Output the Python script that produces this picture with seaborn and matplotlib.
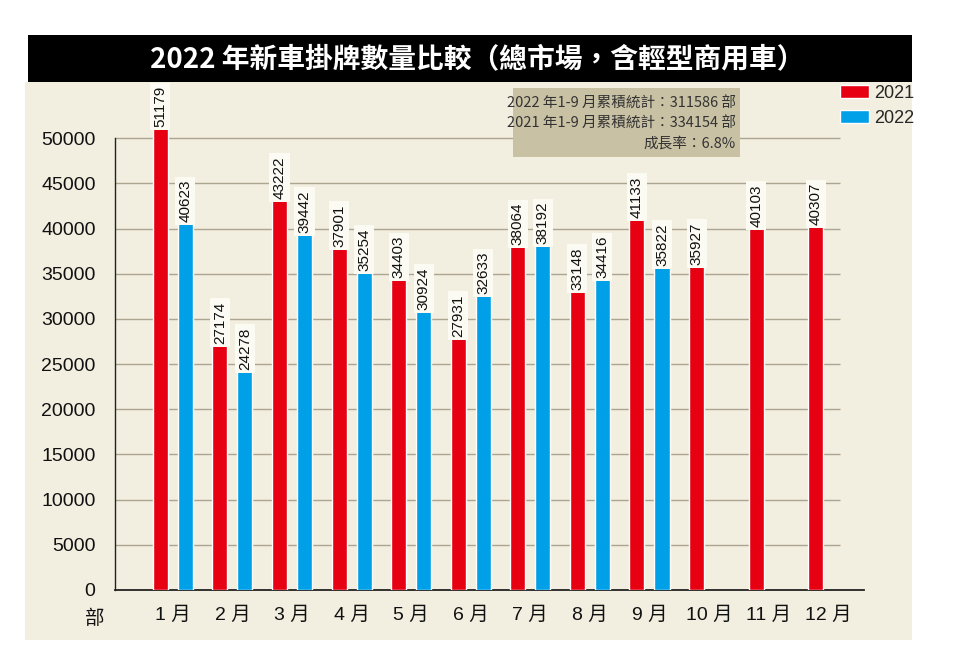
import numpy as np
import pandas as pd
import matplotlib
matplotlib.use("Agg")
import matplotlib.pyplot as plt
import seaborn as sns
from matplotlib.patches import Rectangle

# -----------------------------
# DATA
# -----------------------------
months = ["1 月", "2 月", "3 月", "4 月", "5 月", "6 月",
          "7 月", "8 月", "9 月", "10 月", "11 月", "12 月"]
sales_2021 = [51179, 27174, 43222, 37901, 34403, 27931,
              38064, 33148, 41133, 35927, 40103, 40307]
sales_2022 = [40623, 24278, 39442, 35254, 30924, 32633,
              38192, 34416, 35822, np.nan, np.nan, np.nan]
years = ["2021", "2022"]
y_ticks = list(range(0, 50001, 5000))

title = "2022 年新車掛牌數量比較（總市場，含輕型商用車）"
info_lines = ["2022 年1-9 月累積統計：311586 部",
              "2021 年1-9 月累積統計：334154 部",
              "成長率：6.8%"]

RED = "#e60012"
BLUE = "#00a0e9"
BEIGE = "#f2eee0"

# -----------------------------
# FONTS
# -----------------------------
sns.set_style("white")
# numbers in the narrowest latin face, CJK falls through to Noto
plt.rcParams["font.family"] = ["Liberation Sans", "Noto Sans CJK TC", "DejaVu Sans"]
CJK = ["Noto Sans CJK TC", "DejaVu Sans"]

df = pd.DataFrame({
    "month": months * 2,
    "year": ["2021"] * 12 + ["2022"] * 12,
    "value": sales_2021 + sales_2022,
})

# -----------------------------
# FIGURE
# -----------------------------
W, H = 960, 660
fig = plt.figure(figsize=(9.6, 6.6), dpi=100, facecolor="white")

# beige panel and black title bar (behind the axes)
fig.patches.append(Rectangle((25 / W, 1 - 640 / H), 887 / W, 558 / H,
                             transform=fig.transFigure, facecolor=BEIGE,
                             edgecolor="none", zorder=-2))
fig.patches.append(Rectangle((28 / W, 1 - 82 / H), 884 / W, 47 / H,
                             transform=fig.transFigure, facecolor="black",
                             edgecolor="none", zorder=-2))
fig.text(477 / W, 1 - 59 / H, title, color="white", fontsize=20,
         fontweight="bold", ha="center", va="center", family=CJK)

ax = fig.add_axes([115 / W, 1 - 590 / H, 749 / W, 497 / H])
ax.set_facecolor("none")
ax.set_zorder(1)

sns.barplot(data=df, x="month", y="value", hue="year", order=months,
            hue_order=years, palette={"2021": RED, "2022": BLUE},
            saturation=1, width=0.84, gap=0.4, errorbar=None, ax=ax,
            zorder=3)

ax.set_xlim(-0.97, 11.6)
ax.set_ylim(0, 55000)

# grid lines only up to 50000 and not across the whole width
ax.hlines(y_ticks[1:], -0.97, 11.2, colors="#aca690", lw=1, zorder=1)

# value labels
for c in ax.containers:
    labels = ["" if np.isnan(v) else f"{v:.0f}" for v in c.datavalues]
    ax.bar_label(c, labels=labels, rotation=90, padding=0.5, fontsize=11,
                 color="#111111",
                 bbox=dict(boxstyle="square,pad=0.2", facecolor="#fbfaf3",
                           edgecolor="none"))

ax.set_xlabel("")
ax.set_ylabel("")
ax.set_yticks(y_ticks)
ax.set_yticklabels([str(t) for t in y_ticks], fontsize=14)
ax.tick_params(axis="y", length=0, pad=14, labelcolor="#111111")
ax.tick_params(axis="x", direction="in", length=5, width=1, color="#222222",
               pad=12, labelsize=14, labelcolor="#111111")

for s in ["top", "right"]:
    ax.spines[s].set_visible(False)
ax.spines["left"].set_bounds(0, 50000)
ax.spines["left"].set_color("#222222")
ax.spines["left"].set_linewidth(1)
ax.spines["bottom"].set_color("#222222")
ax.spines["bottom"].set_linewidth(1.3)

fig.text(95 / W, 1 - 618 / H, "部", fontsize=14, ha="center", va="center",
         family=CJK, color="#111111")

# legend
handles, labels = ax.get_legend_handles_labels()
ax.legend_.remove()
fig.legend(handles, labels, loc="upper left",
           bbox_to_anchor=(840 / W, 1 - 85 / H), frameon=False, fontsize=13,
           handlelength=1.6, handleheight=0.7, labelspacing=0.45,
           handletextpad=0.3, borderpad=0, borderaxespad=0)

# cumulative info box (above the grid lines)
fig.patches.append(Rectangle((513 / W, 1 - 157 / H), 227 / W, 69 / H,
                             transform=fig.transFigure, facecolor="#c9c1a4",
                             edgecolor="none", zorder=5))
for i, line in enumerate(info_lines):
    fig.text(736 / W, 1 - (104 + 20 * i) / H, line, fontsize=10.5,
             color="#333333", ha="right", va="center", family=CJK, zorder=6)

fig.savefig("out.png", dpi=100, facecolor="white")
